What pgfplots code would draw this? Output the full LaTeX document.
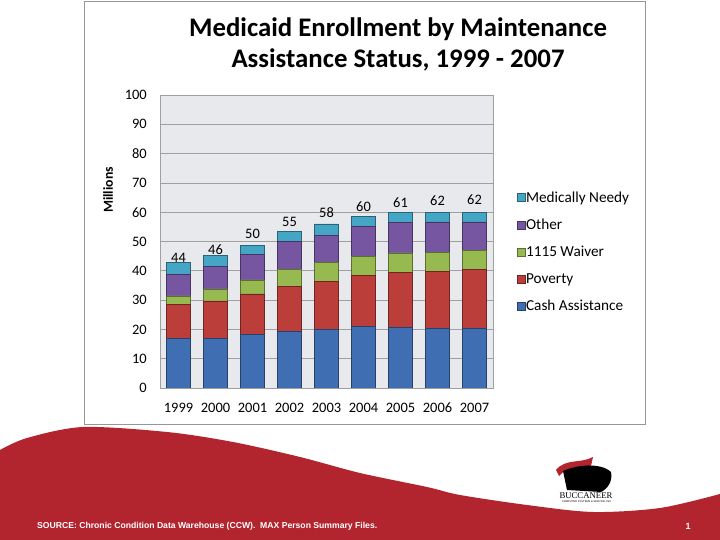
\documentclass[border=0pt]{standalone}
\usepackage{graphicx}
\usepackage{pgfplots}
\usepackage{pgfplotstable}
\pgfplotsset{compat=1.18}
\usepackage{fontspec}
\setmainfont{Carlito}
\newfontfamily\footfont{Liberation Sans}
\newfontfamily\logofont{Liberation Serif}
\definecolor{cash}{RGB}{64,110,178}
\definecolor{pov}{RGB}{188,62,58}
\definecolor{waiv}{RGB}{150,185,80}
\definecolor{oth}{RGB}{118,86,160}
\definecolor{mn}{RGB}{68,165,196}
\definecolor{plotbg}{RGB}{232,233,236}
\definecolor{gridgray}{RGB}{160,160,162}
\definecolor{bandred}{RGB}{178,36,46}
\definecolor{framegray}{RGB}{150,150,150}

\pgfplotstableread{
x cash pov waiv oth mn
0 16.8 11.6 3.0 7.4 4.1
1 17.0 12.7 4.1 7.6 3.9
2 18.4 13.7 4.8 8.6 3.2
3 19.2 15.6 5.8 9.4 3.4
4 20.0 16.5 6.3 9.3 3.9
5 21.0 17.4 6.6 10.1 3.4
6 20.8 18.7 6.6 10.3 3.4
7 20.5 19.3 6.6 10.3 3.3
8 20.5 20.0 6.4 9.8 3.1
}\enrol

\pgfplotstableread{
x y lab
0 44.3 44
1 47.2 46
2 52.6 50
3 56.8 55
4 59.7 58
5 61.9 60
6 63.1 61
7 63.9 62
8 64.4 62
}\labtab

\begin{document}
\begin{tikzpicture}[x=1bp,y=1bp]
\useasboundingbox (0,0) rectangle (720bp,540bp);
\fill[white] (0,0) rectangle (720bp,540bp);
% red band
\fill[bandred] plot[smooth] coordinates {(0bp,90bp) (27bp,102bp) (83bp,113bp) (167bp,108bp) (233bp,98bp) (300bp,83bp) (360bp,67bp) (427bp,53bp) (460bp,45bp) (527bp,35bp) (593bp,28bp) (660bp,32bp) (720bp,46bp)} -- (720bp,0bp) -- (0bp,0bp) -- cycle;
% logo
\fill[bandred] (556bp,70bp) .. controls (566bp,82bp) and (580bp,76bp) .. (593bp,83bp) -- (591bp,74bp) .. controls (578bp,70bp) and (568bp,75bp) .. (559bp,64bp) -- cycle;
\fill[black] (563bp,69bp) .. controls (576bp,75bp) and (600bp,78bp) .. (611bp,68bp) .. controls (613bp,58bp) and (607bp,51bp) .. (601bp,48bp) -- (567bp,50bp) -- cycle;
\node[inner sep=0pt] at (586bp,44bp) {\resizebox{53bp}{!}{\logofont BUCCANEER}};
\node[inner sep=0pt] at (587bp,38bp) {\resizebox{50bp}{!}{\footfont COMPUTER SYSTEMS \& SERVICE, INC.}};
% footer
\node[anchor=west, inner sep=0pt, text=white] at (37bp,14bp) {\resizebox{340bp}{!}{\footfont\bfseries SOURCE: Chronic Condition Data Warehouse (CCW).\ \ MAX Person Summary Files.}};
\node[inner sep=0pt, text=white] at (688bp,14bp) {\footfont\bfseries\fontsize{9}{10}\selectfont 1};
% chart frame
\draw[framegray, fill=white, line width=0.8bp] (84bp,116bp) rectangle (645bp,539bp);
% title
\node[font=\bfseries\fontsize{26.9}{30}\selectfont] at (398bp,511bp) {Medicaid Enrollment by Maintenance};
\node[font=\bfseries\fontsize{26.9}{30}\selectfont] at (398bp,480bp) {Assistance Status, 1999 - 2007};

\begin{axis}[
  at={(160bp,152bp)}, anchor=south west,
  width=333bp, height=293bp, scale only axis,
  ybar stacked, bar width=0.65,
  xmin=-0.5, xmax=8.5, ymin=0, ymax=100,
  xtick={0,...,8},
  xticklabels={1999,2000,2001,2002,2003,2004,2005,2006,2007},
  ytick={0,10,...,100},
  ymajorgrids, grid style={draw=gridgray, line width=0.7bp},
  axis background/.style={fill=plotbg},
  axis line style={draw=gridgray, line width=0.7bp},
  major tick length=0pt,
  tick label style={font=\fontsize{14.5}{16}\selectfont},
  /pgf/number format/assume math mode=true,
  yticklabel style={inner sep=0pt, xshift=-13bp},
  xticklabel style={inner sep=0pt, yshift=-15bp},
  ylabel={Millions},
  ylabel style={at={(axis description cs:-0.156,0.676)}, anchor=center, font=\bfseries\fontsize{13.8}{15}\selectfont},
  legend style={at={(axis description cs:1.07,0.674)}, anchor=north west, draw=none, fill=none,
    font=\fontsize{15.3}{17}\selectfont, row sep=13.2bp, inner sep=0pt,
    nodes={inner sep=1bp}},
  legend cell align=left,
  reverse legend,
  legend image code/.code={\fill[#1] (0bp,-4bp) rectangle (8bp,4bp);},
]
\addplot[fill=cash, draw=cash!60!black, line width=0.6bp] table[x=x, y=cash] {\enrol};
\addlegendentry{Cash Assistance}
\addplot[fill=pov, draw=pov!60!black, line width=0.6bp] table[x=x, y=pov] {\enrol};
\addlegendentry{Poverty}
\addplot[fill=waiv, draw=waiv!60!black, line width=0.6bp] table[x=x, y=waiv] {\enrol};
\addlegendentry{1115 Waiver}
\addplot[fill=oth, draw=oth!60!black, line width=0.6bp] table[x=x, y=oth] {\enrol};
\addlegendentry{Other}
\addplot[fill=mn, draw=mn!60!black, line width=0.6bp] table[x=x, y=mn] {\enrol};
\addlegendentry{Medically Needy}
\end{axis}

\begin{axis}[
  at={(160bp,152bp)}, anchor=south west,
  width=333bp, height=293bp, scale only axis,
  xmin=-0.5, xmax=8.5, ymin=0, ymax=100,
  hide axis, clip=false,
]
\addplot[draw=none, mark=none, nodes near coords, point meta=explicit symbolic,
  nodes near coords style={anchor=center, font=\fontsize{14.5}{16}\selectfont, inner sep=0pt}]
  table[x=x, y=y, meta=lab] {\labtab};
\end{axis}
\end{tikzpicture}
\end{document}
